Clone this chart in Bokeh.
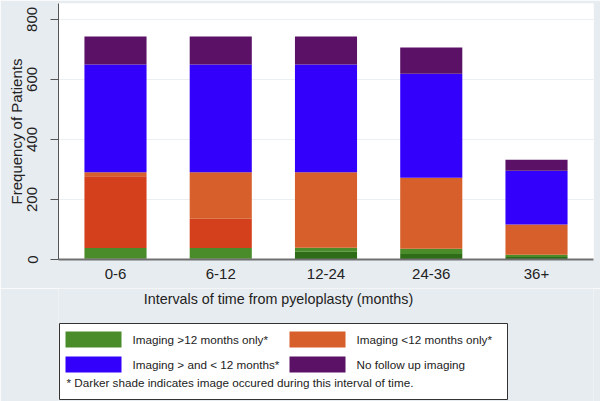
from bokeh.plotting import figure
from bokeh.models import ColumnDataSource, FactorRange, Range1d, FixedTicker
from bokeh.layouts import column
from bokeh.core.properties import value
from bokeh.embed import file_html
from bokeh.resources import INLINE

# ---- data ----
cats = ["0-6", "6-12", "12-24", "24-36", "36+"]
green_dark = [3, 3, 26, 18, 8]        # imaging >12 months only (in this interval)
green_light = [35, 35, 13, 18, 8]     # imaging >12 months only
orange_dark = [239, 98, 0, 0, 0]      # imaging <12 months only (in this interval)
orange_light = [14, 155, 252, 236, 101]
blue = [359, 359, 359, 347, 179]      # imaging > and < 12 months
purple = [93, 93, 93, 87, 36]         # no follow up imaging
y_ticks = [0, 200, 400, 600, 800]

legend_labels = ["Imaging >12 months only*", "Imaging <12 months only*",
                 "Imaging > and < 12 months*", "No follow up imaging"]
note = "* Darker shade indicates image occured during this interval of time."
x_title = "Intervals of time from pyeloplasty (months)"
y_title = "Frequency of Patients"

# ---- styles ----
C_GD, C_GL = "#2f6c18", "#4a8b2a"
C_OD, C_OL = "#d3401b", "#d65f2b"
C_BL, C_PU = "#3300fb", "#5a1166"
BG = "#e7ecf0"
FONT = "Liberation Sans"
TXT = "#222222"

source = ColumnDataSource(dict(cat=cats, gd=green_dark, gl=green_light, od=orange_dark,
                               ol=orange_light, bl=blue, pu=purple))

p = figure(x_range=FactorRange(factors=cats, range_padding=0.0166),
           y_range=Range1d(0, 853), width=600, height=288,
           output_backend="svg", toolbar_location=None,
           min_border_left=58, min_border_right=7, min_border_top=3, min_border_bottom=29)
p.vbar_stack(["gd", "gl", "od", "ol", "bl", "pu"], x="cat", width=0.59,
             color=[C_GD, C_GL, C_OD, C_OL, C_BL, C_PU], line_color=None, source=source)

p.background_fill_color = "white"
p.border_fill_color = BG
p.outline_line_color = None
p.xgrid.visible = False
p.ygrid.ticker = FixedTicker(ticks=y_ticks)
p.ygrid.grid_line_color = "#eceff1"

p.yaxis.ticker = FixedTicker(ticks=y_ticks)
p.yaxis.major_label_orientation = "vertical"
p.yaxis.major_tick_out = 8
p.yaxis.major_tick_in = 0
p.yaxis.minor_tick_out = 0
p.yaxis.major_label_standoff = 13
p.yaxis.axis_label = y_title
p.yaxis.axis_label_standoff = 0
p.yaxis.axis_label_text_font_size = "15px"
p.yaxis.axis_label_text_font_style = "normal"
p.yaxis.axis_label_text_font = FONT
p.yaxis.axis_label_text_color = TXT
p.yaxis.major_label_text_font = FONT
p.yaxis.major_label_text_font_size = "15px"
p.yaxis.major_label_text_color = TXT
p.yaxis.axis_line_color = "#555555"
p.yaxis.major_tick_line_color = "#555555"

p.xaxis.major_tick_out = 0
p.xaxis.major_tick_in = 0
p.xaxis.major_label_standoff = 9
p.xaxis.major_label_text_font = FONT
p.xaxis.major_label_text_font_size = "15px"
p.xaxis.major_label_text_color = TXT
p.xaxis.axis_line_color = "#707070"
p.xaxis.axis_line_width = 2

# ---- lower panel (pixel coordinates; its frame lines up with the chart frame) ----
lg = figure(width=600, height=113, x_range=Range1d(58, 593), y_range=Range1d(113, 0),
            output_backend="svg", toolbar_location=None,
            x_axis_location=None, y_axis_location=None,
            min_border_left=58, min_border_right=7, min_border_top=0, min_border_bottom=0)
lg.grid.visible = False
lg.outline_line_color = None
lg.background_fill_color = BG
lg.border_fill_color = BG

lg.text(x=[278], y=[10], text=[x_title], text_align="center", text_baseline="middle",
        text_font=value(FONT), text_font_size="14.3px", text_color=TXT)
lg.quad(left=[59], right=[507], top=[35], bottom=[111], fill_color="white",
        line_color="#333333", line_width=1)
lg.rect(x=[93, 317, 93, 317], y=[51, 51, 76, 76], width=56, height=16,
        fill_color=[C_GL, C_OL, C_BL, C_PU], line_color=None)
lg.text(x=[132, 356, 132, 356], y=[51, 51, 76, 76], text=legend_labels,
        text_baseline="middle", text_font=value(FONT), text_font_size="11.7px",
        text_color=TXT)
lg.text(x=[66], y=[94], text=[note], text_baseline="middle", text_font=value(FONT),
        text_font_size="11.7px", text_color=TXT)

layout = column(p, lg, spacing=0)
html = file_html(layout, INLINE)
html = html.replace("<body>", '<body style="background:%s">' % BG, 1)
open("out.html", "w").write(html)
